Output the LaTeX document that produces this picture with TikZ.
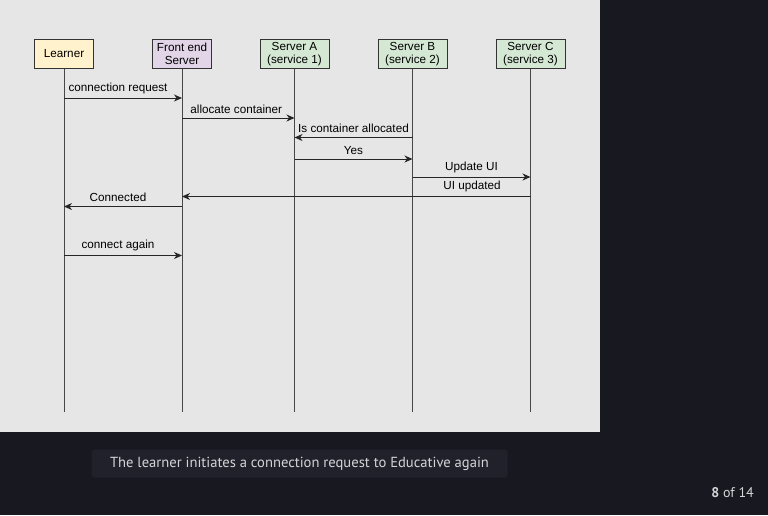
\documentclass[tikz,border=0pt]{standalone}
\usepackage{fontspec}
\setmainfont{Liberation Sans}
\newfontfamily\captionfont{PT Sans}
\usetikzlibrary{arrows.meta}

\definecolor{pagebg}{HTML}{181820}
\definecolor{panelbg}{HTML}{E6E6E6}
\definecolor{capbg}{HTML}{21212B}
\definecolor{captext}{HTML}{D4D4D8}
\definecolor{learnfill}{HTML}{FFF2CC}
\definecolor{frontfill}{HTML}{E1D5E7}
\definecolor{serverfill}{HTML}{D5E8D4}
\definecolor{edge}{HTML}{333333}

\tikzset{
  actor/.style={draw=edge,line width=0.9pt,minimum height=29pt,align=center,
    inner sep=1pt,font=\fontsize{11.7}{13.5}\selectfont},
  life/.style={draw=edge!90,line width=1pt},
  msg/.style={draw=black!85,line width=1pt,-{Stealth[length=8pt,width=7pt,inset=2.5pt]}},
  msglabel/.style={font=\fontsize{11.7}{13}\selectfont,inner sep=1pt,anchor=south,yshift=3pt}
}

\begin{document}
\begin{tikzpicture}[x=1pt,y=-1pt]
   \useasboundingbox (0,0) rectangle (768,515);
   \fill[pagebg] (0,0) rectangle (768,515);
   \fill[panelbg] (0,0) rectangle (600,432);

   % participants
   \node[actor,fill=learnfill,minimum width=59pt] (learner) at (64,54) {Learner};
   \node[actor,fill=frontfill,minimum width=59pt] (front) at (182,54) {Front end\\Server};
   \node[actor,fill=serverfill,minimum width=69pt] (srva) at (294.5,54) {Server A\\(service 1)};
   \node[actor,fill=serverfill,minimum width=69pt] (srvb) at (412.5,54) {Server B\\(service 2)};
   \node[actor,fill=serverfill,minimum width=69pt] (srvc) at (530.5,54) {Server C\\(service 3)};

   % lifelines
   \foreach \p in {learner,front,srva,srvb,srvc}
     \draw[life] (\p.south) -- (\p.south |- 0,412);

   % messages
   \draw[msg] (learner.south |- 0,98) -- node[msglabel,xshift=-5pt] {connection request} (front.south |- 0,98);
   \draw[msg] (front.south |- 0,118) -- node[msglabel,xshift=-2pt] {allocate container} (srva.south |- 0,118);
   \draw[msg] (srvb.south |- 0,137.5) -- node[msglabel] {Is container allocated} (srva.south |- 0,137.5);
   \draw[msg] (srva.south |- 0,159) -- node[msglabel] {Yes} (srvb.south |- 0,159);
   \draw[msg] (srvb.south |- 0,177) -- node[msglabel] {Update UI} (srvc.south |- 0,177);
   \draw[msg] (srvc.south |- 0,196.5) -- (front.south |- 0,196.5);
   \node[msglabel] (uiupd) at (472,196) {UI updated};
   \draw[msg] (front.south |- 0,206.5) -- node[msglabel,xshift=-5pt] {Connected} (learner.south |- 0,206.5);
   \draw[msg] (learner.south |- 0,255.5) -- node[msglabel,xshift=-5pt] {connect again} (front.south |- 0,255.5);

   % caption and counter
   \node[fill=capbg,rounded corners=3pt,minimum width=416pt,minimum height=28pt,
     text=captext,font=\captionfont\fontsize{14.6}{16}\selectfont] (caption) at (299.5,463.5)
     {The learner initiates a connection request to Educative again};
   \node[anchor=east,text=captext,inner sep=0pt,font=\captionfont\fontsize{14}{16}\selectfont] (counter) at (754,493)
     {\textbf{8} of 14};
\end{tikzpicture}
\end{document}
